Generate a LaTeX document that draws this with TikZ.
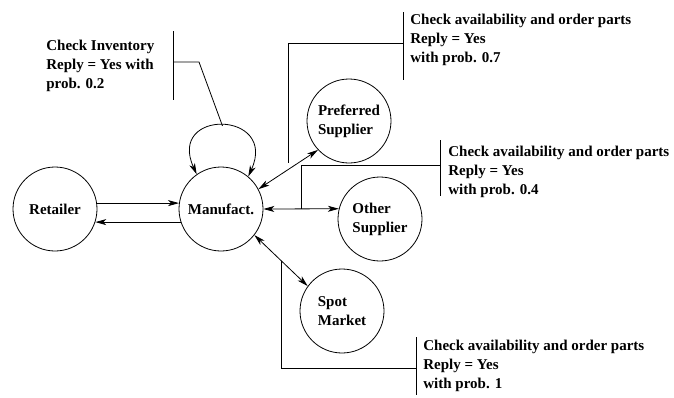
\documentclass[tikz,border=0pt]{standalone}
\usepackage{fontspec}
\setmainfont{Liberation Serif}
\usetikzlibrary{arrows.meta}

\begin{document}
\begin{tikzpicture}[x=1pt,y=-1pt,line width=0.8pt,
	>={Stealth[length=11pt,width=6pt,inset=3pt]},
	agent/.style={draw,circle,minimum size=84pt,inner sep=0pt,align=left,
		font=\bfseries\fontsize{15}{19}\selectfont},
	note/.style={anchor=north west,inner sep=0pt,align=left,
		font=\bfseries\fontsize{15}{19}\selectfont}]
	\useasboundingbox (0,0) rectangle (674,397);
	% agents
	\node[agent] (R) at (55,209) {Retailer};
	\node[agent] (M) at (221,209) {Manufact.};
	\node[agent] (P) at (349,121) {Preferred\\Supplier};
	\node[agent] (O) at (380,219) {Other\\Supplier};
	\node[agent] (S) at (342,311) {Spot\\Market};
	% messages
	\draw[->] (R.8) -- (M.172);
	\draw[->] (M.198) -- (R.-18);
	\draw[<->] (M.125) .. controls +(-30,-66) and +(30,-66) .. (M.50) coordinate[pos=0.5] (loopTop);
	\draw[<->] (M.28) -- (P.223);
	\draw[<->] (M.east) -- coordinate (otherTap) (O.166);
	\draw[<->] (M.-38) -- coordinate (spotTap) (S.144);
	% notes
	\node[note] (invNote) at (46,39.5) {Check Inventory\\Reply = Yes with\\prob. 0.2};
	\node[note] (prefNote) at (410,13.5) {Check availability and order parts\\Reply = Yes\\with prob. 0.7};
	\node[note] (otherNote) at (448,146) {Check availability and order parts\\Reply = Yes\\with prob. 0.4};
	\node[note] (spotNote) at (423,339.5) {Check availability and order parts\\Reply = Yes\\with prob. 1};
	\draw (173,31) -- (173,100);
	\draw (403,12) -- (403,80);
	\draw (440,140) -- (440,196);
	\draw (416,337) -- (416,395);
	\coordinate (invBar) at (173,62);
	\coordinate (prefBar) at (403,43);
	\coordinate (otherBar) at (440,165);
	\coordinate (spotBar) at (416,368);
	\coordinate (prefTap) at (288,163);
	\draw (invBar) -- ++(26,0) -- (loopTop);
	\draw (prefBar) -| (prefTap);
	\draw (otherBar) -| (otherTap);
	\draw (spotBar) -| (spotTap);
\end{tikzpicture}
\end{document}
